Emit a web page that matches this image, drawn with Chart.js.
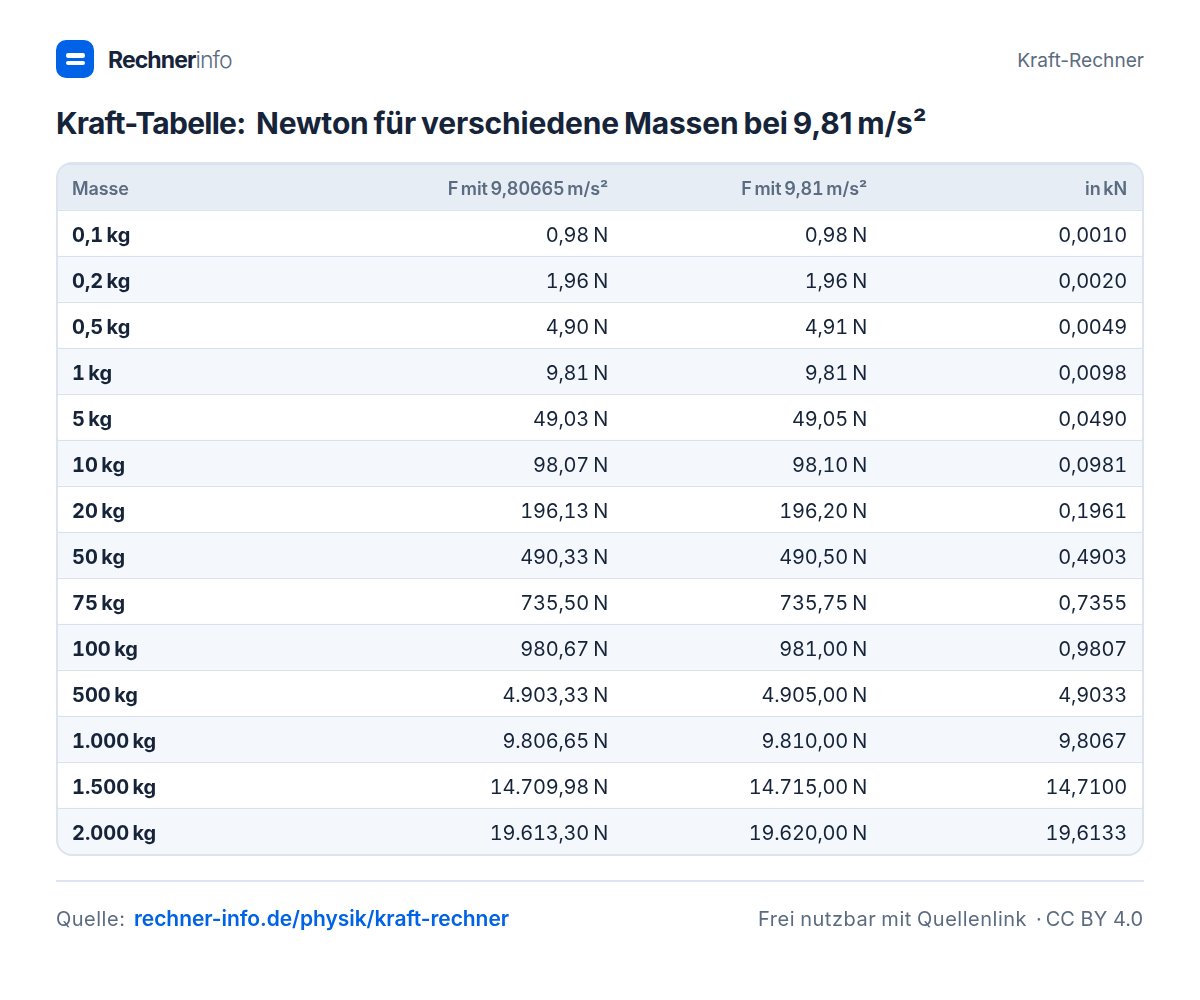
<!DOCTYPE html>
<html lang="de"><head><meta charset="utf-8">
<script src="https://cdn.jsdelivr.net/npm/chart.js@4"></script>
<style>
html,body{margin:0;padding:0;background:#fff;width:1200px;height:1000px;overflow:hidden;font-family:Inter,sans-serif}
#wrap{position:absolute;left:0;top:0;width:1200px;height:1000px}
canvas{position:absolute;left:0;top:0;font-family:Inter;font-feature-settings:"tnum" 1;font-variant-numeric:tabular-nums}
.t{position:absolute;white-space:pre;line-height:1}
#logo{position:absolute;left:56px;top:40px;width:38px;height:38px;border-radius:10px;background:#0062e6}
#logo i{position:absolute;left:10px;width:19px;height:4.4px;border-radius:2.2px;background:#fff}
#rule{position:absolute;left:56px;top:880px;width:1088px;height:2px;background:#dde4ed}
</style></head><body>
<div id="wrap">
<div id="logo"><i style="top:13.4px"></i><i style="top:20.8px"></i></div>
<div class="t" style="left:108px;top:49px;font-size:23px;font-weight:700;letter-spacing:-.9px;color:#16243a">Rechner<span style="font-weight:300;color:#5b6b80">info</span></div>
<div class="t" style="right:56px;top:50.5px;font-size:19.1px;color:#5b6b80">Kraft-Rechner</div>
<div class="t" style="left:56px;top:108px;font-size:30px;font-weight:700;letter-spacing:-.75px;color:#16243a">Kraft-Tabelle:</div>
<div class="t" style="left:256px;top:108px;font-size:30px;font-weight:700;letter-spacing:-.16px;word-spacing:-2px;color:#16243a">Newton für verschiedene Massen bei 9,81 m/s²</div>
<canvas id="c" width="1200" height="1000"></canvas>
<div id="rule"></div>
<div class="t" style="left:56px;top:909px;font-size:20px;letter-spacing:.5px;color:#5b6b80">Quelle:</div>
<div class="t" style="left:134px;top:908px;font-size:21px;font-weight:600;letter-spacing:-.06px;color:#0062e6">rechner-info.de/physik/kraft-rechner</div>
<div class="t" style="left:758px;top:909px;font-size:20px;letter-spacing:.52px;word-spacing:-1px;color:#5b6b80">Frei nutzbar mit Quellenlink</div>
<div class="t" style="left:1036px;top:909px;font-size:20px;color:#5b6b80">·</div>
<div class="t" style="right:57px;top:909px;font-size:20px;color:#5b6b80">CC BY 4.0</div>
</div>
<script>
const headers = ['Masse','F mit 9,80665 m/s²','F mit 9,81 m/s²','in kN'];
const masses = ['0,1 kg','0,2 kg','0,5 kg','1 kg','5 kg','10 kg','20 kg','50 kg','75 kg','100 kg','500 kg','1.000 kg','1.500 kg','2.000 kg'];
const forceStandard = ['0,98 N','1,96 N','4,90 N','9,81 N','49,03 N','98,07 N','196,13 N','490,33 N','735,50 N','980,67 N','4.903,33 N','9.806,65 N','14.709,98 N','19.613,30 N'];
const forceRounded = ['0,98 N','1,96 N','4,91 N','9,81 N','49,05 N','98,10 N','196,20 N','490,50 N','735,75 N','981,00 N','4.905,00 N','9.810,00 N','14.715,00 N','19.620,00 N'];
const kiloNewton = ['0,0010','0,0020','0,0049','0,0098','0,0490','0,0981','0,1961','0,4903','0,7355','0,9807','4,9033','9,8067','14,7100','19,6133'];

const rows = [headers[0], ...masses];
const columns = [masses, forceStandard, forceRounded, kiloNewton];
const colAnchor = [14, 550, 809, 1069];
const colAlign = ['left','right','right','right'];
const DARK='#16243a', GREY='#5b6b80';
const rowBg = rows.map((_,i)=> i===0 ? '#e6edf5' : (i%2===0 ? '#f4f7fb' : '#ffffff'));

function cardPath(ctx,a,inset){
  ctx.beginPath();
  ctx.roundRect(a.left-2+inset,a.top-2+inset,a.right-a.left+4-2*inset,a.bottom-a.top+4-2*inset,16-inset);
}
const tablePlugin = {
  id:'table',
  beforeDraw(ch){
    const c=ch.ctx; c.save(); cardPath(c,ch.chartArea,1); c.clip();
  },
  afterDraw(ch){
    const c=ch.ctx; c.restore();
    c.save();
    cardPath(c,ch.chartArea,1); c.lineWidth=2; c.strokeStyle='#dde4ed'; c.stroke();
    const x=ch.scales.x,y=ch.scales.y;
    c.textBaseline='alphabetic';
    c.fontKerning='normal';
    rows.forEach((r,i)=>{
      const py=y.getPixelForValue(i)+ (i===0?8:9);
      columns.forEach((col,j)=>{
        const txt=i===0?headers[j]:col[i-1];
        c.textAlign=colAlign[j];
        if(i===0){c.font='600 18px Inter';c.fillStyle=GREY;c.wordSpacing='-2px';c.letterSpacing='-0.1px';}
        else if(j===0){c.font='700 20px Inter';c.fillStyle=DARK;c.wordSpacing='-2px';c.letterSpacing='0px';}
        else{c.font='400 20px Inter';c.fillStyle=DARK;c.wordSpacing='-1px';c.letterSpacing='-0.25px';}
        c.fillText(txt,x.getPixelForValue(colAnchor[j]),py);
      });
    });
    c.restore();
  }
};
new Chart(document.getElementById('c'),{
  type:'bar',
  data:{labels:rows,datasets:[{data:rows.map(()=>[0,1084]),backgroundColor:rowBg,barPercentage:1,categoryPercentage:1,borderWidth:0}]},
  plugins:[tablePlugin],
  options:{
    indexAxis:'y',responsive:false,animation:false,devicePixelRatio:1,
    layout:{padding:{left:58,right:58,top:164,bottom:146}},
    plugins:{legend:{display:false},tooltip:{enabled:false},title:{display:false}},
    scales:{
      x:{type:'linear',min:0,max:1084,display:false,grid:{display:false}},
      y:{type:'category',offset:true,afterFit:s=>{s.width=0},
         ticks:{display:false},border:{display:false},
         grid:{z:1,color:'#d9e2ec',lineWidth:1,drawTicks:false,offset:true}}
    }
  }
});
</script>
</body></html>
